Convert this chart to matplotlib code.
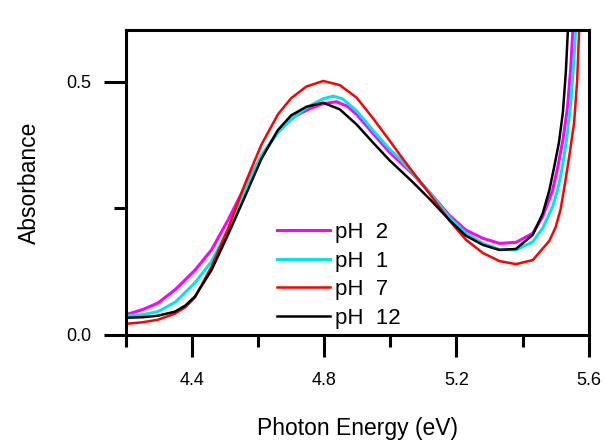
#!/usr/bin/env python3

import numpy as np
import matplotlib.pyplot as plt
from matplotlib.ticker import MultipleLocator

# absorbance spectra
x_ph2 = [4.20, 4.25, 4.297, 4.35, 4.409, 4.459, 4.509, 4.56, 4.61, 4.66, 4.711, 4.755,
         4.797, 4.837, 4.87, 4.898, 4.948, 4.998, 5.029, 5.068, 5.12, 5.179, 5.229, 5.28,
         5.33, 5.38, 5.431, 5.461, 5.491, 5.506, 5.522, 5.536, 5.546, 5.552, 5.558]
y_ph2 = [0.040, 0.050, 0.063, 0.090, 0.128, 0.168, 0.227, 0.293, 0.353, 0.402, 0.432, 0.447,
         0.457, 0.461, 0.452, 0.436, 0.398, 0.361, 0.342, 0.318, 0.281, 0.236, 0.207, 0.191,
         0.181, 0.183, 0.201, 0.234, 0.286, 0.330, 0.385, 0.450, 0.530, 0.600, 0.700]

x_ph1 = [4.20, 4.25, 4.297, 4.35, 4.409, 4.459, 4.509, 4.56, 4.61, 4.66, 4.70, 4.746,
         4.797, 4.827, 4.855, 4.898, 4.948, 4.998, 5.029, 5.068, 5.12, 5.179, 5.229, 5.28,
         5.33, 5.38, 5.431, 5.461, 5.491, 5.506, 5.52, 5.534, 5.546, 5.555, 5.561, 5.566]
y_ph1 = [0.038, 0.040, 0.046, 0.065, 0.103, 0.145, 0.207, 0.287, 0.355, 0.400, 0.426, 0.449,
         0.467, 0.472, 0.467, 0.443, 0.404, 0.367, 0.348, 0.320, 0.281, 0.232, 0.201, 0.181,
         0.169, 0.168, 0.184, 0.211, 0.254, 0.286, 0.330, 0.390, 0.460, 0.540, 0.610, 0.700]

x_ph7 = [4.20, 4.25, 4.297, 4.348, 4.38, 4.409, 4.459, 4.509, 4.56, 4.61, 4.66, 4.70,
         4.746, 4.797, 4.847, 4.898, 4.948, 4.998, 5.029, 5.068, 5.12, 5.179, 5.229, 5.28,
         5.33, 5.38, 5.431, 5.481, 5.50, 5.515, 5.528, 5.543, 5.556, 5.565, 5.571, 5.576]
y_ph7 = [0.022, 0.025, 0.030, 0.042, 0.055, 0.074, 0.135, 0.210, 0.298, 0.376, 0.436, 0.468,
         0.491, 0.502, 0.494, 0.469, 0.428, 0.384, 0.356, 0.322, 0.278, 0.226, 0.188, 0.162,
         0.146, 0.140, 0.148, 0.186, 0.213, 0.248, 0.298, 0.360, 0.420, 0.500, 0.600, 0.700]

x_ph12 = [4.20, 4.25, 4.297, 4.348, 4.38, 4.409, 4.459, 4.509, 4.56, 4.61, 4.66, 4.70,
          4.746, 4.797, 4.847, 4.898, 4.948, 4.998, 5.029, 5.068, 5.12, 5.179, 5.229, 5.28,
          5.33, 5.38, 5.431, 5.461, 5.481, 5.495, 5.51, 5.522, 5.531, 5.537, 5.543]
y_ph12 = [0.034, 0.035, 0.038, 0.046, 0.058, 0.076, 0.128, 0.198, 0.273, 0.348, 0.405, 0.434,
          0.451, 0.459, 0.446, 0.416, 0.380, 0.345, 0.326, 0.302, 0.268, 0.227, 0.196, 0.178,
          0.168, 0.170, 0.198, 0.240, 0.286, 0.330, 0.380, 0.440, 0.520, 0.600, 0.700]

plt.rcParams['font.family'] = ['Liberation Sans', 'DejaVu Sans']

fig = plt.figure(figsize=(6.05, 4.46), dpi=100)
ax = fig.add_axes([0.208, 0.249, 0.765, 0.684])

ax.plot(x_ph2, y_ph2, color='#ff00ff', lw=2.2, label='pH  2')
ax.plot(x_ph1, y_ph1, color='#00e5e5', lw=2.2, label='pH  1')
ax.plot(x_ph7, y_ph7, color='#ff0000', lw=1.8, label='pH  7')
ax.plot(x_ph12, y_ph12, color='#000000', lw=1.8, label='pH  12')

ax.set_xlim(4.2, 5.6)
ax.set_ylim(0, 0.603)
ax.xaxis.set_minor_locator(MultipleLocator(0.2))
ax.yaxis.set_minor_locator(MultipleLocator(0.25))

for s in ax.spines.values():
    s.set_linewidth(2.2)
ax.tick_params(which='major', direction='out', length=16, width=2.2)
ax.tick_params(which='minor', direction='out', length=8.5, width=2.2)
ax.tick_params(axis='x', which='major', pad=11)
ax.tick_params(axis='y', which='major', pad=9)

ax.set_xticks([4.4, 4.8, 5.2, 5.6])
ax.set_yticks([0.0, 0.5])
ax.set_xticklabels(['4.4', '4.8', '5.2', '5.6'], fontsize=13)
ax.set_yticklabels(['0.0', '0.5'], fontsize=13)

ax.set_xlabel('Photon Energy (eV)', fontsize=16.5, labelpad=20)
ax.set_ylabel('Absorbance', fontsize=16.5, labelpad=18)

leg = ax.legend(loc='upper left', bbox_to_anchor=(0.307, 0.399), frameon=False,
                fontsize=16, handlelength=2.4, handletextpad=0.22, labelspacing=0.34,
                borderaxespad=0)

fig.savefig('out.png', dpi=100)
